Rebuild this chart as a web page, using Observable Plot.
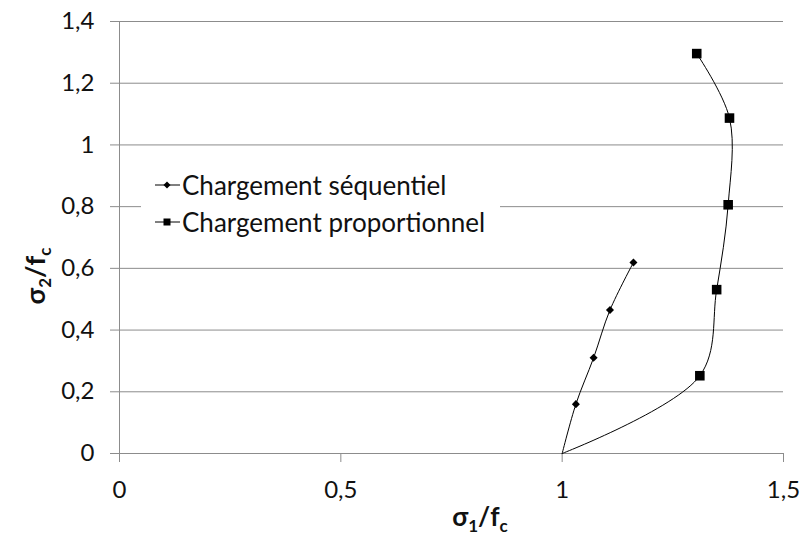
<!DOCTYPE html>
<html><head><meta charset="utf-8">
<script src="https://cdn.jsdelivr.net/npm/d3@7"></script>
<script src="https://cdn.jsdelivr.net/npm/@observablehq/plot@0.6"></script>
<style>
body{margin:0;background:#fff;}
#wrap{position:relative;width:801px;height:538px;font-family:Lato,"Open Sans",sans-serif;}
#wrap svg text{fill:#111;}
#wrap svg g[aria-label$="tick label"] text{font-size:24px !important;font-family:Lato,"Open Sans",sans-serif !important;}
#legend{position:absolute;left:141px;top:160px;width:359px;height:88px;background:#fff;font-size:26px;color:#111;}
#legend .row{position:absolute;left:14px;height:34px;display:flex;align-items:center;white-space:nowrap;}
#legend svg{margin-right:2px;}
</style></head><body><div id="wrap"><div id="legend"></div></div>
<script>
const seriesNames = ["Chargement séquentiel", "Chargement proportionnel"];
const seqX = [1.0, 1.031, 1.071, 1.108, 1.161];
const seqY = [0, 0.160, 0.310, 0.465, 0.619];
const seqMarked = [false, true, true, true, true];
const propX = [1.0, 1.311, 1.349, 1.375, 1.378, 1.304];
const propY = [0, 0.252, 0.531, 0.806, 1.087, 1.296];
const propMarked = [false, true, true, true, true, true];
const xTicks = [0, 0.5, 1, 1.5];
const yTicks = [0, 0.2, 0.4, 0.6, 0.8, 1, 1.2, 1.4];

const seq = seqX.map((x, i) => ({x, y: seqY[i], m: seqMarked[i]}));
const prop = propX.map((x, i) => ({x, y: propY[i], m: propMarked[i]}));
const fmt = d => String(d).replace(".", ",");

const chart = Plot.plot({
  width: 801, height: 538,
  marginLeft: 119, marginRight: 18, marginTop: 21, marginBottom: 85,
  x: {domain: [0, 1.5], axis: null},
  y: {domain: [0, 1.4], axis: null},
  style: {fontSize: "24px", fontFamily: "Lato, 'Open Sans', sans-serif", color: "#8c8c8c", background: "#fff"},
  marks: [
    Plot.gridY(yTicks, {stroke: "#8c8c8c", strokeOpacity: 1}),
    Plot.axisY(yTicks, {tickSize: 9, tickPadding: 16, tickFormat: fmt, stroke: "#8c8c8c", label: null, fontSize: 24}),
    Plot.axisX(xTicks, {tickSize: 9, tickPadding: 18, tickFormat: fmt, stroke: "#8c8c8c", label: null, fontSize: 24}),
    Plot.ruleY([0], {stroke: "#8c8c8c"}),
    Plot.ruleX([0], {stroke: "#8c8c8c"}),
    Plot.line(seq, {x: "x", y: "y", stroke: "#000", strokeWidth: 1, curve: "catmull-rom"}),
    Plot.line(prop, {x: "x", y: "y", stroke: "#000", strokeWidth: 1, curve: "catmull-rom"}),
    Plot.dot(seq.filter(d => d.m), {x: "x", y: "y", symbol: "square", r: 3.2, rotate: 45, fill: "#000", stroke: "none"}),
    Plot.dot(prop.filter(d => d.m), {x: "x", y: "y", symbol: "square", r: 5.4, fill: "#000", stroke: "none"})
  ]
});
const wrap = document.getElementById("wrap");
wrap.insertBefore(chart, wrap.firstChild);

const svg = d3.select(chart);
function addLabel(sel, sub) {
  sel.append("tspan").text("σ");
  sel.append("tspan").text(sub).attr("dy", 6).style("font-size", "17px");
  sel.append("tspan").text("/f").attr("dy", -6);
  sel.append("tspan").text("c").attr("dy", 6).style("font-size", "17px");
}
// y axis label
const yl = svg.append("text").attr("transform", "translate(45,276) rotate(-90)")
  .attr("text-anchor", "middle").style("font-weight", "bold").style("font-size", "27px");
addLabel(yl, "2");
// x axis label
const xl = svg.append("text").attr("x", 480).attr("y", 526)
  .attr("text-anchor", "middle").style("font-weight", "bold").style("font-size", "26px");
addLabel(xl, "1");

// legend
const legend = document.getElementById("legend");
seriesNames.forEach((name, i) => {
  const row = document.createElement("div");
  row.className = "row";
  row.style.top = (8 + i * 37) + "px";
  const marker = i === 0
    ? '<rect x="9.5" y="4.5" width="5" height="5" fill="#000" transform="rotate(45 12 7)"/>'
    : '<rect x="8.5" y="3.5" width="7" height="7" fill="#000"/>';
  row.innerHTML = '<svg width="25" height="14"><line x1="0" x2="25" y1="7" y2="7" stroke="#000" stroke-width="1"/>' + marker + '</svg><span>' + name + '</span>';
  legend.appendChild(row);
});
</script></body></html>
